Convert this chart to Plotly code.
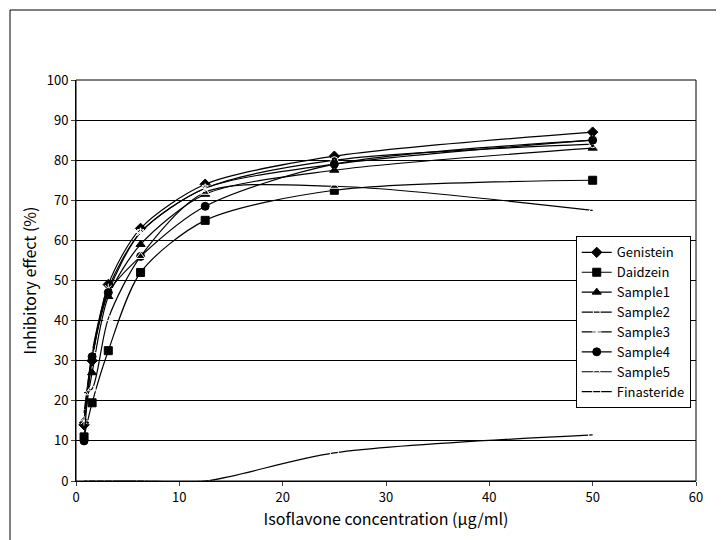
import plotly.graph_objects as go

conc = [0.78, 1.56, 3.125, 6.25, 12.5, 25, 50]
genistein = [14, 30, 49, 63, 74, 81, 87]
daidzein = [11, 19.5, 32.5, 52, 65, 72.5, 75]
sample1 = [15, 27, 46, 59, 71.5, 77.5, 83]
sample2 = [17, 31, 47, 62, 73, 80, 84]
sample3 = [15, 32, 48, 62, 73, 79, 85]
sample4 = [10, 31, 47, 56, 68.5, 79, 85]
sample5 = [22, 23, 40.5, 56, 72, 73.5, 67.5]
finasteride = [0, 0, 0, 0, 0, 7, 11.5]

series = [
    ("Genistein", genistein, "diamond", 8),
    ("Daidzein", daidzein, "square", 8),
    ("Sample1", sample1, "triangle-up", 8),
    ("Sample2", sample2, "circle-open", 7),
    ("Sample3", sample3, "asterisk-open", 8),
    ("Sample4", sample4, "circle", 8),
    ("Sample5", sample5, "triangle-up-open", 8),
    ("Finasteride", finasteride, "square-open", 8),
]

fig = go.Figure()
for name, vals, sym, sz in series:
    fig.add_trace(go.Scatter(
        x=conc, y=vals, name=name, mode="lines+markers",
        line=dict(color="black", width=1.2, shape="spline", smoothing=0.8),
        marker=dict(symbol=sym, size=sz, color="white" if "open" in sym else "black",
                    line=dict(color="black", width=1)),
    ))

fig.update_layout(
    width=724, height=540, paper_bgcolor="white", plot_bgcolor="white",
    margin=dict(l=68, r=36, t=72, b=67),
    font=dict(family="Noto Sans CJK KR", size=13, color="black"),
    legend=dict(x=0.806, y=0.61, xanchor="left", yanchor="top",
                bordercolor="black", borderwidth=1, bgcolor="white",
                font=dict(size=13), tracegroupgap=0, itemwidth=30),
    xaxis=dict(range=[0, 60], dtick=10, showgrid=False, showline=True,
               linecolor="black", ticks="outside", ticklen=4,
               title=dict(text="Isoflavone concentration (μg/ml)", standoff=8), zeroline=False),
    yaxis=dict(range=[0, 100], dtick=10, showgrid=True, gridcolor="black", gridwidth=1,
               showline=True, linecolor="black", ticks="outside", ticklen=4,
               title=dict(text="Inhibitory effect (%)", standoff=6), zeroline=False),
    shapes=[dict(type="rect", xref="paper", yref="paper",
                 x0=-66/620, x1=1+34/620, y0=-65/401, y1=1+70/401,
                 line=dict(color="black", width=1)),
            dict(type="rect", xref="x domain", yref="y domain", x0=0, x1=1, y0=0, y1=1,
                 line=dict(color="black", width=1))],
)
fig.write_html("out.html")
